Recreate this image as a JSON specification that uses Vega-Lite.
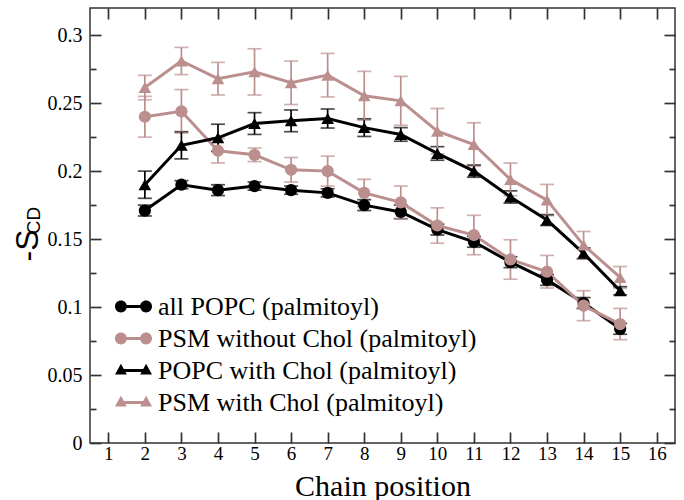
{
  "$schema": "https://vega.github.io/schema/vega-lite/v6.json",
  "width": 585,
  "height": 435,
  "autosize": "none",
  "padding": {"left": 90, "top": 8, "right": 9, "bottom": 57},
  "background": "white",
  "config": {"view": {"stroke": "#333333", "strokeWidth": 1.5}, "font": "Liberation Serif"},
  "data": {"values": [
    {"s": "all POPC (palmitoyl)", "pos": 2, "v": 0.171, "e": 0.004},
    {"s": "all POPC (palmitoyl)", "pos": 3, "v": 0.190, "e": 0.003},
    {"s": "all POPC (palmitoyl)", "pos": 4, "v": 0.186, "e": 0.004},
    {"s": "all POPC (palmitoyl)", "pos": 5, "v": 0.189, "e": 0.003},
    {"s": "all POPC (palmitoyl)", "pos": 6, "v": 0.186, "e": 0.003},
    {"s": "all POPC (palmitoyl)", "pos": 7, "v": 0.184, "e": 0.003},
    {"s": "all POPC (palmitoyl)", "pos": 8, "v": 0.175, "e": 0.004},
    {"s": "all POPC (palmitoyl)", "pos": 9, "v": 0.170, "e": 0.005},
    {"s": "all POPC (palmitoyl)", "pos": 10, "v": 0.157, "e": 0.004},
    {"s": "all POPC (palmitoyl)", "pos": 11, "v": 0.148, "e": 0.004},
    {"s": "all POPC (palmitoyl)", "pos": 12, "v": 0.133, "e": 0.004},
    {"s": "all POPC (palmitoyl)", "pos": 13, "v": 0.120, "e": 0.004},
    {"s": "all POPC (palmitoyl)", "pos": 14, "v": 0.103, "e": 0.004},
    {"s": "all POPC (palmitoyl)", "pos": 15, "v": 0.084, "e": 0.004},
    {"s": "PSM without Chol (palmitoyl)", "pos": 2, "v": 0.240, "e": 0.015},
    {"s": "PSM without Chol (palmitoyl)", "pos": 3, "v": 0.244, "e": 0.016},
    {"s": "PSM without Chol (palmitoyl)", "pos": 4, "v": 0.215, "e": 0.009},
    {"s": "PSM without Chol (palmitoyl)", "pos": 5, "v": 0.212, "e": 0.005},
    {"s": "PSM without Chol (palmitoyl)", "pos": 6, "v": 0.201, "e": 0.009},
    {"s": "PSM without Chol (palmitoyl)", "pos": 7, "v": 0.200, "e": 0.011},
    {"s": "PSM without Chol (palmitoyl)", "pos": 8, "v": 0.184, "e": 0.010},
    {"s": "PSM without Chol (palmitoyl)", "pos": 9, "v": 0.177, "e": 0.012},
    {"s": "PSM without Chol (palmitoyl)", "pos": 10, "v": 0.160, "e": 0.013},
    {"s": "PSM without Chol (palmitoyl)", "pos": 11, "v": 0.153, "e": 0.0145},
    {"s": "PSM without Chol (palmitoyl)", "pos": 12, "v": 0.135, "e": 0.0145},
    {"s": "PSM without Chol (palmitoyl)", "pos": 13, "v": 0.126, "e": 0.012},
    {"s": "PSM without Chol (palmitoyl)", "pos": 14, "v": 0.101, "e": 0.011},
    {"s": "PSM without Chol (palmitoyl)", "pos": 15, "v": 0.0875, "e": 0.0115},
    {"s": "POPC with Chol (palmitoyl)", "pos": 2, "v": 0.190, "e": 0.010},
    {"s": "POPC with Chol (palmitoyl)", "pos": 3, "v": 0.219, "e": 0.010},
    {"s": "POPC with Chol (palmitoyl)", "pos": 4, "v": 0.2245, "e": 0.010},
    {"s": "POPC with Chol (palmitoyl)", "pos": 5, "v": 0.235, "e": 0.008},
    {"s": "POPC with Chol (palmitoyl)", "pos": 6, "v": 0.237, "e": 0.008},
    {"s": "POPC with Chol (palmitoyl)", "pos": 7, "v": 0.2387, "e": 0.007},
    {"s": "POPC with Chol (palmitoyl)", "pos": 8, "v": 0.232, "e": 0.0065},
    {"s": "POPC with Chol (palmitoyl)", "pos": 9, "v": 0.227, "e": 0.005},
    {"s": "POPC with Chol (palmitoyl)", "pos": 10, "v": 0.213, "e": 0.005},
    {"s": "POPC with Chol (palmitoyl)", "pos": 11, "v": 0.200, "e": 0.0045},
    {"s": "POPC with Chol (palmitoyl)", "pos": 12, "v": 0.181, "e": 0.0045},
    {"s": "POPC with Chol (palmitoyl)", "pos": 13, "v": 0.164, "e": 0.004},
    {"s": "POPC with Chol (palmitoyl)", "pos": 14, "v": 0.1395, "e": 0.004},
    {"s": "POPC with Chol (palmitoyl)", "pos": 15, "v": 0.112, "e": 0.003},
    {"s": "PSM with Chol (palmitoyl)", "pos": 2, "v": 0.2615, "e": 0.009},
    {"s": "PSM with Chol (palmitoyl)", "pos": 3, "v": 0.281, "e": 0.010},
    {"s": "PSM with Chol (palmitoyl)", "pos": 4, "v": 0.268, "e": 0.012},
    {"s": "PSM with Chol (palmitoyl)", "pos": 5, "v": 0.273, "e": 0.017},
    {"s": "PSM with Chol (palmitoyl)", "pos": 6, "v": 0.265, "e": 0.016},
    {"s": "PSM with Chol (palmitoyl)", "pos": 7, "v": 0.2706, "e": 0.016},
    {"s": "PSM with Chol (palmitoyl)", "pos": 8, "v": 0.2554, "e": 0.018},
    {"s": "PSM with Chol (palmitoyl)", "pos": 9, "v": 0.2517, "e": 0.018},
    {"s": "PSM with Chol (palmitoyl)", "pos": 10, "v": 0.2294, "e": 0.0167},
    {"s": "PSM with Chol (palmitoyl)", "pos": 11, "v": 0.2196, "e": 0.016},
    {"s": "PSM with Chol (palmitoyl)", "pos": 12, "v": 0.1939, "e": 0.012},
    {"s": "PSM with Chol (palmitoyl)", "pos": 13, "v": 0.1787, "e": 0.0115},
    {"s": "PSM with Chol (palmitoyl)", "pos": 14, "v": 0.1456, "e": 0.010},
    {"s": "PSM with Chol (palmitoyl)", "pos": 15, "v": 0.1218, "e": 0.008}
  ]},
  "layer": [
    {
      "mark": {"type": "errorbar", "ticks": {"size": 14, "thickness": 1.7}, "rule": {"strokeWidth": 1.7}},
      "encoding": {
        "x": {"field": "pos", "type": "quantitative", "scale": {"domain": [0.5, 16.5], "nice": false, "zero": false},
          "axis": {"orient": "bottom", "values": [1,2,3,4,5,6,7,8,9,10,11,12,13,14,15,16], "format": "d", "grid": false, "domain": false,
            "tickSize": -11, "tickWidth": 1.7, "tickColor": "#333333", "labelFont": "Liberation Serif", "labelFontSize": 19, "labelColor": "#000000", "labelPadding": 12,
            "title": "Chain position", "titleFont": "Liberation Serif", "titleFontSize": 30, "titleFontWeight": "normal", "titleColor": "#000000", "titleY": 52, "titleBaseline": "alphabetic"}},
        "y": {"field": "v", "type": "quantitative", "scale": {"domain": [0, 0.32], "nice": false, "zero": false},
          "axis": {"orient": "left", "values": [0, 0.05, 0.1, 0.15, 0.2, 0.25, 0.3], "format": ".2~f", "grid": false, "domain": false,
            "tickSize": -11, "tickWidth": 1.7, "tickColor": "#333333", "labelFont": "Liberation Serif", "labelFontSize": 20, "labelColor": "#000000", "labelPadding": 19,
            "title": "-S", "titleFont": "Liberation Sans", "titleFontSize": 32, "titleFontWeight": "normal", "titleColor": "#000000", "titleAngle": 270, "titleX": -53, "titleY": 237, "titleAlign": "center", "titleBaseline": "alphabetic"}},
        "yError": {"field": "e"},
        "color": {"field": "s", "type": "nominal", "scale": {"domain": ["all POPC (palmitoyl)", "PSM without Chol (palmitoyl)", "POPC with Chol (palmitoyl)", "PSM with Chol (palmitoyl)"], "range": ["#000000", "#bc8f8f", "#000000", "#bc8f8f"]},
          "legend": {"orient": "none", "legendX": 25, "legendY": 280, "title": null, "padding": 0, "labelFont": "Liberation Serif", "labelFontSize": 26, "labelColor": "#000000", "labelOffset": 6, "labelLimit": 600, "symbolSize": 1369, "symbolStrokeWidth": 0, "rowPadding": -13,
            "encoding": {"symbols": {
              "shape": {"condition": {"test": "indexof(datum.value, 'with Chol') >= 0", "value": "M-1,0.22L-0.68,-0.36L-0.36,0.22ZM0.36,0.22L0.68,-0.36L1,0.22ZM-0.68,-0.08L0.68,-0.08L0.68,0.08L-0.68,0.08Z"}, "value": "M-1,0A0.32,0.32 0 1,1 -0.36,0A0.32,0.32 0 1,1 -1,0ZM0.36,0A0.32,0.32 0 1,1 1,0A0.32,0.32 0 1,1 0.36,0ZM-0.68,-0.08L0.68,-0.08L0.68,0.08L-0.68,0.08Z"},
              "strokeWidth": {"value": 0}, "opacity": {"value": 1}, "fillOpacity": {"value": 1}}}}}
      }
    },
    {
      "mark": {"type": "line", "strokeWidth": 3},
      "encoding": {
        "x": {"field": "pos", "type": "quantitative", "scale": {"domain": [0.5, 16.5], "nice": false, "zero": false}, "axis": null},
        "y": {"field": "v", "type": "quantitative", "scale": {"domain": [0, 0.32], "nice": false, "zero": false}, "axis": null},
        "color": {"field": "s", "type": "nominal"}
      }
    },
    {
      "transform": [{"filter": "indexof(datum.s, 'with Chol') < 0"}],
      "mark": {"type": "point", "filled": true, "opacity": 1, "size": 150, "shape": "circle"},
      "encoding": {
        "x": {"field": "pos", "type": "quantitative", "scale": {"domain": [0.5, 16.5], "nice": false, "zero": false}, "axis": null},
        "y": {"field": "v", "type": "quantitative", "scale": {"domain": [0, 0.32], "nice": false, "zero": false}, "axis": null},
        "color": {"field": "s", "type": "nominal"}
      }
    },
    {
      "transform": [{"filter": "indexof(datum.s, 'with Chol') >= 0"}],
      "mark": {"type": "point", "filled": true, "opacity": 1, "size": 160, "shape": "triangle-up"},
      "encoding": {
        "x": {"field": "pos", "type": "quantitative", "scale": {"domain": [0.5, 16.5], "nice": false, "zero": false}, "axis": null},
        "y": {"field": "v", "type": "quantitative", "scale": {"domain": [0, 0.32], "nice": false, "zero": false}, "axis": null},
        "color": {"field": "s", "type": "nominal"}
      }
    },
    {
      "mark": {"type": "point", "opacity": 0},
      "encoding": {
        "x": {"field": "pos", "type": "quantitative", "scale": {"domain": [0.5, 16.5], "nice": false, "zero": false},
          "axis": {"orient": "top", "values": [1,2,3,4,5,6,7,8,9,10,11,12,13,14,15,16], "labels": false, "grid": false, "domain": false, "tickSize": -11, "tickWidth": 1.7, "tickColor": "#333333", "title": null}},
        "y": {"field": "v", "type": "quantitative", "scale": {"domain": [0, 0.32], "nice": false, "zero": false},
          "axis": {"orient": "right", "values": [0, 0.05, 0.1, 0.15, 0.2, 0.25, 0.3], "labels": false, "grid": false, "domain": false, "tickSize": -11, "tickWidth": 1.7, "tickColor": "#333333", "title": null}}
      }
    },
    {
      "mark": {"type": "point", "opacity": 0},
      "encoding": {
        "x": {"field": "pos", "type": "quantitative", "scale": {"domain": [0.5, 16.5], "nice": false, "zero": false}, "axis": null},
        "y": {"field": "v", "type": "quantitative", "scale": {"domain": [0, 0.32], "nice": false, "zero": false},
          "axis": {"orient": "left", "values": [0.025, 0.075, 0.125, 0.175, 0.225, 0.275], "labels": false, "grid": false, "domain": false, "tickSize": -6, "tickWidth": 1.7, "tickColor": "#333333",
            "title": "CD", "titleFont": "Liberation Sans", "titleFontSize": 19, "titleFontWeight": "normal", "titleColor": "#000000", "titleAngle": 270, "titleX": -51, "titleY": 212, "titleAlign": "center", "titleBaseline": "alphabetic"}}
      }
    },
    {
      "mark": {"type": "point", "opacity": 0},
      "encoding": {
        "x": {"field": "pos", "type": "quantitative", "scale": {"domain": [0.5, 16.5], "nice": false, "zero": false}, "axis": null},
        "y": {"field": "v", "type": "quantitative", "scale": {"domain": [0, 0.32], "nice": false, "zero": false},
          "axis": {"orient": "right", "values": [0.025, 0.075, 0.125, 0.175, 0.225, 0.275], "labels": false, "grid": false, "domain": false, "tickSize": -6, "tickWidth": 1.7, "tickColor": "#333333", "title": null}}
      }
    }
  ],
  "resolve": {"axis": {"x": "independent", "y": "independent"}}
}
